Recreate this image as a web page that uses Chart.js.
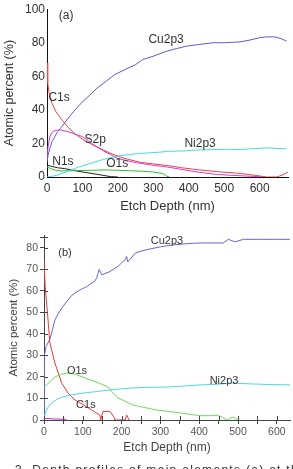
<!DOCTYPE html>
<html>
<head>
<meta charset="utf-8">
<script src="https://cdn.jsdelivr.net/npm/chart.js@4.4.0/dist/chart.umd.min.js"></script>
<style>
  html, body { margin: 0; padding: 0; background: #fff; width: 293px; height: 469px; overflow: hidden; }
  #chartA { position: absolute; left: 0; top: 0; }
  #chartB { position: absolute; left: 0; top: 218px; }
  #caption { position: absolute; left: 15px; top: 463px; font: 12px "Liberation Sans", Arial, sans-serif; color: #333; letter-spacing: 1.3px; white-space: nowrap; }
</style>
</head>
<body>
<canvas id="chartA" width="293" height="218"></canvas>
<canvas id="chartB" width="293" height="251"></canvas>
<div id="caption">3.  Depth profiles of main elements (a) at the</div>
<script>
// ---- panel (a) ----
const aXTicks = [0, 100, 200, 300, 400, 500, 600];
const aCuDepth = [0, 3, 8, 14, 22, 30, 42, 56, 75, 101, 127, 141, 160, 191, 220, 250, 270, 300, 338, 365, 394, 430, 468, 500, 544, 570, 600, 620, 642, 660, 676];
const aCuPct   = [9, 13, 17, 21, 24, 27, 30, 34, 39, 45, 50, 53, 56, 61, 64, 67, 70, 72, 75, 76.5, 78, 79, 80, 80, 80.5, 81.5, 83, 83.5, 83.5, 82.5, 81];
const aCDepth = [0, 2, 6, 14, 25, 44, 60, 80, 100, 130, 160, 186, 220, 262, 300, 341, 380, 431, 480, 535, 570, 600, 620, 648, 665, 680];
const aCPct   = [68, 56, 50, 44, 39, 33.5, 29.5, 25.5, 22.5, 19, 16, 13.5, 11, 8.8, 7.8, 6.8, 5.5, 4.2, 3.2, 2.3, 1.5, 0.6, 0, 0, 1.2, 3];
const aSDepth = [0, 3, 8, 14, 20, 30, 40, 59, 80, 101, 130, 160, 200, 253, 300, 338, 380, 430, 479, 520, 560, 590, 608];
const aSPct   = [11, 18, 24, 26.5, 27.5, 28, 28, 27, 25.5, 24, 19.5, 15.5, 11, 8.5, 7, 6, 4.5, 2.8, 1.5, 1, 0.6, 0.3, 0];
const aNDepth = [0, 10, 30, 50, 73, 100, 130, 169, 180, 200];
const aNPct   = [7, 6.5, 5.5, 5, 4, 3, 2, 0.6, 0.2, 0];
const aODepth = [0, 10, 25, 40, 80, 120, 169, 200, 262, 300, 327, 338, 345];
const aOPct   = [6, 5, 4, 3.6, 3.8, 4, 4.2, 4, 3.5, 3, 2, 0.5, 0];
const aNiDepth = [0, 10, 28, 60, 90, 121, 160, 206, 260, 318, 341, 394, 412, 460, 507, 544, 580, 620, 650, 676];
const aNiPct   = [0, 0.3, 1, 3.5, 6, 8, 10.5, 12.7, 14, 14.8, 15.3, 15.6, 16, 16.3, 16.5, 16.4, 16.8, 17.4, 17, 16.8];
const aLabelText = ['(a)', 'Cu2p3', 'C1s', 'S2p', 'N1s', 'O1s', 'Ni2p3'];
const aLabelX    = [54, 336, 34, 136, 45, 198, 432];
const aLabelY    = [96, 82, 47, 22.4, 9.4, 8.2, 20];

// ---- panel (b) ----
const bXTicks = [0, 50, 100, 150, 200, 250, 300, 350, 400, 450, 500, 550, 600];
const bYTicks = [0, 10, 20, 30, 40, 50, 60, 70, 80, 85];
const bCuDepth = [0, 1, 5, 15, 22, 28, 40, 54, 72, 93, 110, 130, 136, 142, 149, 170, 191, 200, 209, 213, 216, 235, 250, 273, 300, 333, 370, 402, 430, 462, 475, 492, 514, 560, 600, 634];
const bCuPct   = [0, 30, 34, 37.5, 42, 46.5, 50.5, 54, 58, 60.5, 62, 64.5, 66, 70, 67.5, 69, 71.5, 73, 74.5, 76, 73.5, 77.6, 78.5, 79.5, 80.5, 81.4, 82, 82.3, 82.3, 82.3, 84, 82.8, 84, 84, 84, 84];
const bCDepth = [0, 3, 8, 15, 28, 46, 62, 80, 98, 111, 131, 144, 146, 152, 170, 180, 183, 209, 213, 219];
const bCPct   = [74, 62, 52, 36, 26.5, 17, 12.5, 9.3, 7.5, 6, 3.7, 2.3, 0, 4, 4, 1.5, 0, 0, 2.3, 0];
const bODepth = [0, 10, 28, 45, 59, 80, 106, 144, 165, 188, 229, 260, 291, 330, 359, 402, 430, 446, 460, 472, 487, 500];
const bOPct   = [15, 17, 20, 21.3, 21.8, 21.3, 19.5, 17, 15.3, 10.5, 7, 5.8, 4.6, 3.8, 3.1, 2, 2, 2.3, 1.2, 0, 1.4, 0];
const bNiDepth = [0, 5, 12, 23, 35, 49, 70, 100, 135, 170, 200, 229, 270, 317, 360, 402, 445, 487, 530, 580, 634];
const bNiPct   = [1, 4, 6.5, 8.4, 9.8, 10.7, 11.7, 12.5, 13.2, 14, 14.5, 14.9, 15.2, 15.3, 15.8, 16.3, 16.6, 17.2, 16.8, 16.5, 16.3];
const bSDepth = [0, 25, 58];
const bSPct   = [0.8, 0.5, 0.3];
const bLabelText = ['(b)', 'Cu2p3', 'O1s', 'Ni2p3', 'C1s'];
const bLabelX    = [54, 317, 85, 464, 108];
const bLabelY    = [77.7, 83.3, 22.8, 18, 7];

Chart.defaults.font.family = '"Liberation Sans", Arial, sans-serif';
Chart.defaults.color = '#333';

function pts(xs, ys) {
    return xs.map((x, i) => ({ x: x, y: ys[i] }));
}

function line(label, xs, ys, color) {
    return { label: label, data: pts(xs, ys), borderColor: color, borderWidth: 1, pointRadius: 0, fill: false, tension: 0 };
}

// writes the series names at data positions
const textLabels = {
    id: 'textLabels',
    afterDatasetsDraw(chart, args, opts) {
        const c = chart.ctx, xs = chart.scales.x, ys = chart.scales.y;
        c.save();
        c.font = opts.size + 'px "Liberation Sans", Arial, sans-serif';
        c.fillStyle = '#333';
        c.textAlign = 'center';
        c.textBaseline = 'middle';
        opts.text.forEach((t, i) => {
            c.fillText(t, xs.getPixelForValue(opts.x[i]), ys.getPixelForValue(opts.y[i]));
        });
        c.restore();
    }
};

// tick marks crossing into the plot (panel b)
const innerTicks = {
    id: 'innerTicks',
    afterDraw(chart, args, opts) {
        if (!opts.on) return;
        const c = chart.ctx, xs = chart.scales.x, ys = chart.scales.y, a = chart.chartArea;
        c.save();
        c.strokeStyle = '#444';
        c.lineWidth = 1;
        c.beginPath();
        xs.ticks.forEach(t => {
            const p = Math.round(xs.getPixelForValue(t.value)) + 0.5;
            c.moveTo(p, a.bottom); c.lineTo(p, a.bottom - 4);
        });
        ys.ticks.forEach(t => {
            const p = Math.round(ys.getPixelForValue(t.value)) + 0.5;
            c.moveTo(a.left, p); c.lineTo(a.left + 4, p);
        });
        c.stroke();
        c.restore();
    }
};

new Chart(document.getElementById('chartA'), {
    type: 'line',
    data: {
        datasets: [
            line('Ni2p3', aNiDepth, aNiPct, '#44dddd'),
            line('O1s', aODepth, aOPct, '#33bb33'),
            line('N1s', aNDepth, aNPct, '#222222'),
            line('S2p', aSDepth, aSPct, '#d43cd4'),
            line('C1s', aCDepth, aCPct, '#ee4444'),
            line('Cu2p3', aCuDepth, aCuPct, '#5b5bd6')
        ]
    },
    options: {
        responsive: false,
        animation: false,
        layout: { padding: { top: 7, right: 5, left: 0, bottom: 0 } },
        plugins: {
            legend: { display: false },
            tooltip: { enabled: false },
            textLabels: { text: aLabelText, x: aLabelX, y: aLabelY, size: 12 },
            innerTicks: { on: false }
        },
        scales: {
            x: {
                type: 'linear', min: 0, max: 680,
                afterFit: s => { s.height = 41; },
                afterBuildTicks: s => { s.ticks = aXTicks.map(v => ({ value: v })); },
                grid: { display: false, drawTicks: false },
                border: { display: true, color: '#111', width: 1 },
                ticks: { padding: 4, maxRotation: 0, autoSkip: false, color: '#333', font: { size: 12 } },
                title: { display: true, text: 'Etch Depth (nm)', color: '#333', font: { size: 13 }, padding: { top: 0, bottom: 4 } }
            },
            y: {
                min: 0, max: 100,
                afterFit: s => { s.width = 47; },
                grid: { display: false, drawTicks: false },
                border: { display: true, color: '#111', width: 1 },
                ticks: { stepSize: 20, padding: 2, color: '#333', font: { size: 12 } },
                title: { display: true, text: 'Atomic percent (%)', color: '#333', font: { size: 12.5 }, padding: { top: 2, bottom: 0 } }
            }
        }
    },
    plugins: [textLabels, innerTicks]
});

new Chart(document.getElementById('chartB'), {
    type: 'line',
    data: {
        datasets: [
            line('S2p', bSDepth, bSPct, '#cc33cc'),
            line('Ni2p3', bNiDepth, bNiPct, '#4cd8e0'),
            line('O1s', bODepth, bOPct, '#6edc5c'),
            line('C1s', bCDepth, bCPct, '#e53c3c'),
            line('Cu2p3', bCuDepth, bCuPct, '#6565dd')
        ]
    },
    options: {
        responsive: false,
        animation: false,
        layout: { padding: { top: 17, right: 3, left: 0, bottom: 0 } },
        plugins: {
            legend: { display: false },
            tooltip: { enabled: false },
            textLabels: { text: bLabelText, x: bLabelX, y: bLabelY, size: 11 },
            innerTicks: { on: true }
        },
        scales: {
            x: {
                type: 'linear', min: 0, max: 634,
                afterFit: s => { s.height = 49; },
                afterBuildTicks: s => { s.ticks = bXTicks.map(v => ({ value: v })); },
                grid: { drawOnChartArea: false, drawTicks: true, tickLength: 4, color: '#444' },
                border: { display: true, color: '#444', width: 1 },
                ticks: { padding: 2, maxRotation: 0, autoSkip: false, color: '#555', font: { size: 10.5 },
                         callback: v => (v % 100 === 0 ? v : '') },
                title: { display: true, text: 'Etch Depth (nm)', color: '#444', font: { size: 12 }, padding: { top: 0, bottom: 14 } }
            },
            y: {
                min: 0, max: 86,
                afterFit: s => { s.width = 44; },
                afterBuildTicks: s => { s.ticks = bYTicks.map(v => ({ value: v })); },
                grid: { drawOnChartArea: false, drawTicks: true, tickLength: 4, color: '#444' },
                border: { display: true, color: '#444', width: 1 },
                ticks: { padding: 2, color: '#555', font: { size: 10.5 },
                         callback: v => (v % 10 === 0 ? v : '') },
                title: { display: true, text: 'Atomic percent (%)', color: '#444', font: { size: 11.5 }, padding: { top: 7, bottom: 0 } }
            }
        }
    },
    plugins: [textLabels, innerTicks]
});
</script>
</body>
</html>
